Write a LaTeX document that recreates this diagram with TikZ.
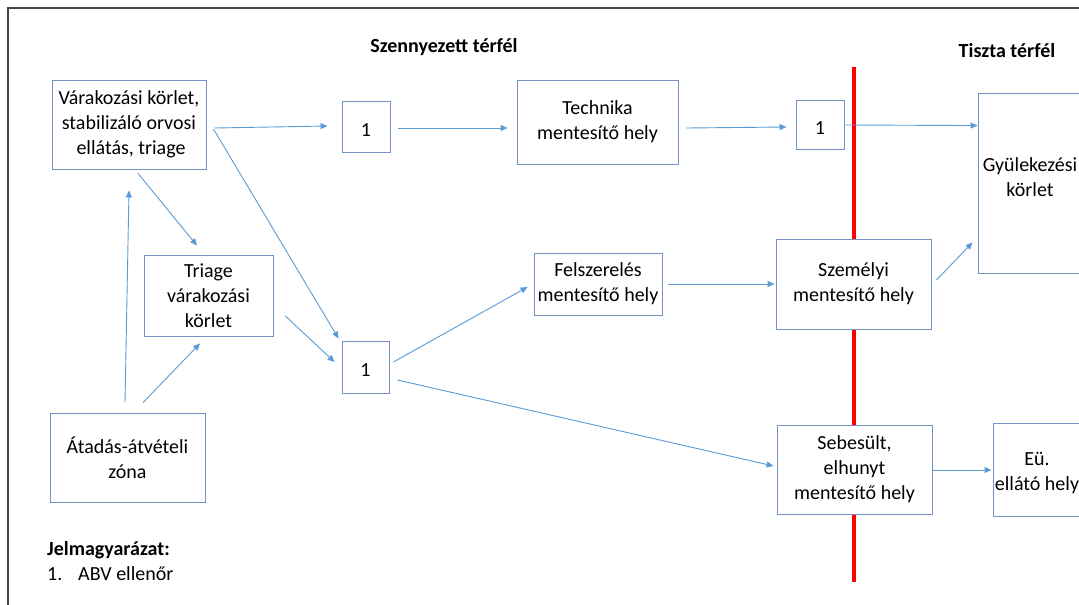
\documentclass[tikz,border=0pt]{standalone}
\usepackage{fontspec}
\setmainfont{Carlito}
\usetikzlibrary{arrows.meta,calc}
\definecolor{boxcol}{RGB}{115,148,195}
\definecolor{arrcol}{RGB}{91,155,213}
\definecolor{framecol}{RGB}{70,70,70}
\tikzset{
  box/.style={draw=boxcol, line width=0.9pt, fill=white, align=center, inner sep=0pt,
    font=\fontsize{20}{25}\selectfont, execute at begin node={\rule{0pt}{19pt}}},
  txt/.style={align=center, inner sep=0pt, font=\fontsize{20}{25}\selectfont},
  head/.style={inner sep=0pt, font=\fontsize{20}{25}\selectfont\bfseries},
  arr/.style={draw=arrcol, line width=0.9pt, -{Triangle[length=7pt,width=6pt]}},
}
\begin{document}
\begin{tikzpicture}[x=1pt,y=-1pt]
\clip (0,0) rectangle (1079,605);
\fill[white] (0,0) rectangle (1079,605);
% frame
\draw[framecol, line width=1.4pt] (8,606) -- (8,8) -- (1080,8);
% red dividing line
\draw[red, line width=3.5pt] (854,67) -- (854,582);
% headings
\node[head, anchor=base] (h1) at (444,52) {Szennyezett térfél};
\node[head, anchor=base] (h2) at (1007,57) {Tiszta térfél};
\node[head, anchor=base west] (leg) at (47,555) {Jelmagyarázat:};
\node[txt, anchor=base west] (leg1) at (47,580) {1.};
\node[txt, anchor=base west] (leg2) at (78,580) {ABV ellenőr};
% boxes
\node[box, minimum width=154pt, minimum height=89pt] (A) at (129,124.5) {Várakozási körlet,\\stabilizáló orvosi\\\hspace*{4pt}ellátás, triage};
\node[box, minimum width=48pt, minimum height=51pt] (c1) at (366,126.5) {1};
\node[box, minimum width=161pt, minimum height=84pt] (tech) at (597.5,122) {Technika\\mentesítő hely};
\node[box, minimum width=48pt, minimum height=49pt] (c2) at (820,124.5) {1};
\node[box, minimum width=104pt, minimum height=180pt] (gy) at (1030,183) {};
\node[txt] (gyt) at (1030,177) {Gyülekezési\\körlet};
\node[box, minimum width=129pt, minimum height=81pt] (tri) at (208.5,295.5) {Triage\\várakozási\\körlet};
\node[box, minimum width=47pt, minimum height=52pt] (c3) at (365.5,367) {1};
\node[box, minimum width=155pt, minimum height=89pt] (at) at (127.5,457.5) {Átadás-átvételi\\zóna};
\node[box, minimum width=128pt, minimum height=62pt] (fel) at (598,284) {Felszerelés\\mentesítő hely};
\node[box, minimum width=155pt, minimum height=90pt] (sz) at (853.5,284) {Személyi\\mentesítő hely};
\node[box, minimum width=155pt, minimum height=89pt] (seb) at (854.5,469.5) {Sebesült,\\elhunyt\\mentesítő hely};
\node[box, minimum width=95pt, minimum height=93pt] (eu) at (1040.5,469.5) {};
\node[txt] (eut) at (1037,473) {Eü.\\ellátó hely};
% arrows
\draw[arr] ($(A.east)+(8,3.5)$) -- ($(c1.west)+(-14,-0.5)$);
\draw[arr] ($(c1.east)+(8,1.5)$) -- ($(tech.west)+(-9,6)$);
\draw[arr] ($(tech.east)+(8,6)$) -- ($(c2.west)+(-9,2.5)$);
\draw[arr] ($(c2.east)+(1,0.5)$) -- ($(gy.north west)+(0,33)$);
\draw[arr] ($(A.east)+(7,4.5)$) -- ($(c3.north west)+(-3,-2)$);
\draw[arr] ($(A.south)+(9,4)$) -- ($(tri.north)+(-11.5,-9)$);
\draw[arr] ($(at.north)+(-2.5,-10)$) -- ($(A.south)+(0,21)$);
\draw[arr] ($(at.north)+(15.5,-10)$) -- ($(tri.south)+(-8.5,7)$);
\draw[arr] ($(tri.east)+(12,20.5)$) -- ($(c3.west)+(-7,-5)$);
\draw[arr] ($(c3.east)+(4,-5)$) -- ($(fel.west)+(-6,3)$);
\draw[arr] ($(c3.east)+(8,13)$) -- ($(seb.west)+(-3,-3.5)$);
\draw[arr] ($(fel.east)+(6,0)$) -- ($(sz.west)+(-1,0)$);
\draw[arr] ($(sz.east)+(5,-4)$) -- ($(gy.south west)+(-5,-31)$);
\draw[arr] ($(seb.east)+(1,0.5)$) -- ($(eu.west)+(-1,0.5)$);
\end{tikzpicture}
\end{document}
